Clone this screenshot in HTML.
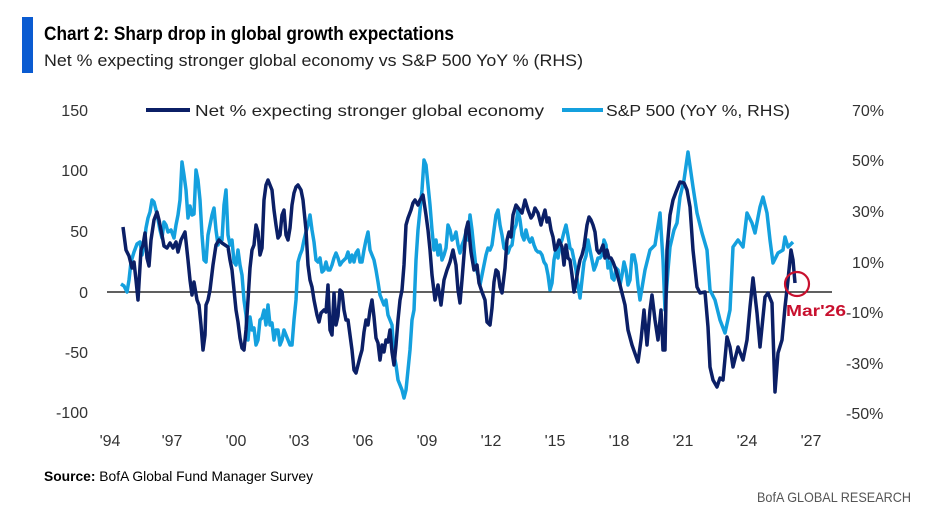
<!DOCTYPE html>
<html><head><meta charset="utf-8"><style>
body{margin:0;background:#fff;width:928px;height:522px;overflow:hidden;font-family:"Liberation Sans",sans-serif}
svg text{font-family:"Liberation Sans",sans-serif}
</style></head><body>
<svg width="928" height="522" viewBox="0 0 928 522" xmlns="http://www.w3.org/2000/svg">
<rect x="22" y="17" width="11" height="56" fill="#0a5bd1"/>
<text x="44" y="40" font-size="19" font-weight="bold" fill="#000" textLength="410" lengthAdjust="spacingAndGlyphs">Chart 2: Sharp drop in global growth expectations</text>
<text x="44" y="66" font-size="17" fill="#222" textLength="539" lengthAdjust="spacingAndGlyphs">Net % expecting stronger global economy vs S&amp;P 500 YoY % (RHS)</text>
<g font-size="16" fill="#333" text-anchor="end">
<text x="88" y="116">150</text><text x="88" y="176">100</text><text x="88" y="237">50</text><text x="88" y="298">0</text><text x="88" y="358">-50</text><text x="88" y="418">-100</text>
</g>
<g font-size="16" fill="#333" text-anchor="start">
<text x="852" y="116">70%</text><text x="852" y="166">50%</text><text x="852" y="217">30%</text><text x="852" y="268">10%</text><text x="846" y="318">-10%</text><text x="846" y="369">-30%</text><text x="846" y="419">-50%</text>
</g>
<g font-size="16" fill="#333" text-anchor="middle">
<text x="110" y="446">'94</text><text x="172" y="446">'97</text><text x="236" y="446">'00</text><text x="299" y="446">'03</text><text x="363" y="446">'06</text><text x="427" y="446">'09</text><text x="491" y="446">'12</text><text x="555" y="446">'15</text><text x="619" y="446">'18</text><text x="683" y="446">'21</text><text x="747" y="446">'24</text><text x="811" y="446">'27</text>
</g>
<line x1="146" y1="110" x2="190" y2="110" stroke="#0b1f66" stroke-width="4"/>
<text x="195" y="116" font-size="16" fill="#222" textLength="349" lengthAdjust="spacingAndGlyphs">Net % expecting stronger global economy</text>
<line x1="562" y1="110" x2="603" y2="110" stroke="#14a0de" stroke-width="4"/>
<text x="606" y="116" font-size="16" fill="#222" textLength="184" lengthAdjust="spacingAndGlyphs">S&amp;P 500 (YoY %, RHS)</text>
<line x1="107" y1="292" x2="832" y2="292" stroke="#000" stroke-width="1.3"/>
<polyline fill="none" stroke="#14a0de" stroke-width="3.5" stroke-linejoin="round" points="121,284 124,286 127,292 129,280 131,262 134,252 137,244 140,242 142,255 144,245 146,228 148,218 150,212 152,200 154,202 157,214 160,230 162,238 164,222 166,225 168,232 171,230 174,238 176,225 178,215 180,200 182,162 184,175 186,190 188,218 190,206 192,215 194,214 196,170 198,180 200,200 202,235 204,260 206,262 208,235 210,225 212,215 214,208 216,230 218,245 220,238 222,240 224,205 226,190 228,235 230,245 232,240 234,262 236,265 238,250 240,265 242,275 244,300 246,315 248,340 250,317 252,330 254,328 256,345 258,340 260,320 262,318 264,310 266,325 268,305 270,325 272,323 274,340 276,330 278,330 280,345 282,340 284,330 286,335 288,340 290,345 292,345 294,320 296,300 298,262 300,255 302,250 304,240 306,232 308,225 310,215 312,230 314,242 316,260 318,262 320,258 322,272 324,270 326,262 328,270 330,270 332,265 334,258 336,253 338,258 340,265 342,262 344,260 346,258 348,252 350,262 352,255 354,262 356,253 358,250 360,262 362,262 364,250 366,240 368,232 370,250 372,255 374,260 376,270 378,282 380,295 382,300 384,305 386,300 388,315 390,320 392,325 394,355 396,365 398,380 400,385 402,390 404,398 406,390 408,370 410,350 412,320 414,310 416,260 418,230 420,210 422,190 424,160 426,165 428,185 430,205 432,230 434,250 436,240 438,255 440,245 442,260 444,255 446,248 448,225 450,230 452,240 454,238 456,232 458,245 460,253 462,245 464,240 466,232 468,240 470,215 472,230 474,250 476,268 478,275 480,285 482,275 484,265 486,255 488,248 490,250 492,245 494,230 496,215 498,210 500,225 502,235 504,248 506,250 508,253 510,247 512,245 514,230 516,225 518,210 520,220 522,235 524,240 526,230 528,238 530,242 532,238 534,245 536,250 538,252 540,252 542,255 544,262 546,265 548,275 550,290 552,283 554,260 556,250 558,258 560,245 562,240 564,232 566,225 568,236 570,248 572,250 574,260 576,270 578,286 580,298 582,280 584,262 586,256 588,240 590,250 592,260 594,270 596,265 598,258 600,258 602,255 604,240 606,245 608,268 610,262 612,278 614,280 616,268 618,270 620,285 622,275 624,262 626,270 628,285 630,280 632,255 634,255 636,265 638,285 640,300 645,270 650,250 655,245 660,213 663,260 665,310 668,270 670,247 674,230 677,223 680,197 684,180 688,152 693,187 697,213 702,233 707,250 710,290 715,300 720,320 725,333 730,310 733,247 738,240 743,247 747,213 752,223 755,233 760,207 763,197 767,213 770,240 773,263 778,253 783,250 785,237 788,247 793,242"/>
<polyline fill="none" stroke="#0b1f66" stroke-width="3.5" stroke-linejoin="round" points="123,227 126,250 129,256 132,268 134,262 136,280 138,300 141,250 143,245 145,233 147,258 149,266 151,240 154,220 157,212 159,220 162,235 164,246 167,248 170,243 173,248 176,242 178,252 181,240 185,232 188,260 190,280 192,295 194,282 197,300 199,305 201,325 203,350 205,335 206,305 208,300 210,290 213,265 216,245 219,240 222,243 225,245 228,247 230,260 232,270 234,290 236,310 238,322 240,338 242,348 244,350 246,330 248,300 250,268 252,250 254,245 256,225 258,232 260,255 262,248 264,200 266,185 268,180 270,185 272,190 274,210 276,225 278,238 280,235 282,215 284,210 286,235 288,240 290,228 292,205 294,193 296,187 298,185 301,190 303,200 306,230 308,265 310,280 312,287 314,300 317,315 319,322 321,313 324,310 326,312 328,285 330,330 332,335 334,293 336,325 338,316 340,290 342,292 344,310 346,320 348,320 350,335 352,350 354,370 356,373 358,365 360,357 362,350 364,332 366,320 368,325 370,310 372,300 374,317 376,338 378,343 380,360 382,345 384,352 386,340 388,342 390,330 392,352 394,365 396,345 398,320 400,300 402,290 404,265 406,225 408,218 411,210 413,203 415,200 418,205 420,200 423,195 426,215 428,230 430,250 432,275 435,300 438,285 441,305 444,280 447,270 450,262 453,250 456,265 458,290 460,303 462,280 466,230 468,222 471,252 474,270 477,265 479,283 482,292 485,300 487,322 490,325 492,308 494,282 496,270 498,272 500,287 502,293 505,268 507,240 509,232 511,237 513,215 516,205 519,209 522,213 525,200 528,210 531,218 533,215 535,208 538,213 541,225 543,217 545,210 547,222 549,218 551,230 553,237 555,250 557,247 559,240 562,247 564,265 566,245 568,258 570,260 572,275 574,292 576,282 578,270 580,260 582,255 584,247 587,225 589,217 591,220 593,225 595,232 597,250 599,253 601,250 603,245 605,258 607,250 609,258 611,258 613,262 616,270 620,285 625,305 628,330 632,345 638,362 641,340 644,310 647,345 650,310 652,295 655,320 658,340 661,310 663,350 665,350 667,250 670,215 673,200 676,192 680,182 684,183 687,190 690,207 693,250 697,287 700,293 705,292 708,327 710,367 713,380 717,387 720,378 723,380 727,337 730,347 733,367 738,347 743,360 747,340 750,307 753,278 757,313 760,347 765,297 768,293 772,303 775,392 778,353 782,340 785,307 788,280 791,250 793,260 795,283"/>
<circle cx="797" cy="284" r="12" fill="none" stroke="#c8102e" stroke-width="2.2"/>
<text x="786" y="316" font-size="16" font-weight="bold" fill="#c8102e" textLength="60" lengthAdjust="spacingAndGlyphs">Mar'26</text>
<text x="44" y="481" font-size="14" fill="#000" textLength="269" lengthAdjust="spacingAndGlyphs"><tspan font-weight="bold">Source:</tspan> BofA Global Fund Manager Survey</text>
<text x="757" y="502" font-size="14" fill="#555" textLength="154" lengthAdjust="spacingAndGlyphs">BofA GLOBAL RESEARCH</text>
</svg>
</body></html>
